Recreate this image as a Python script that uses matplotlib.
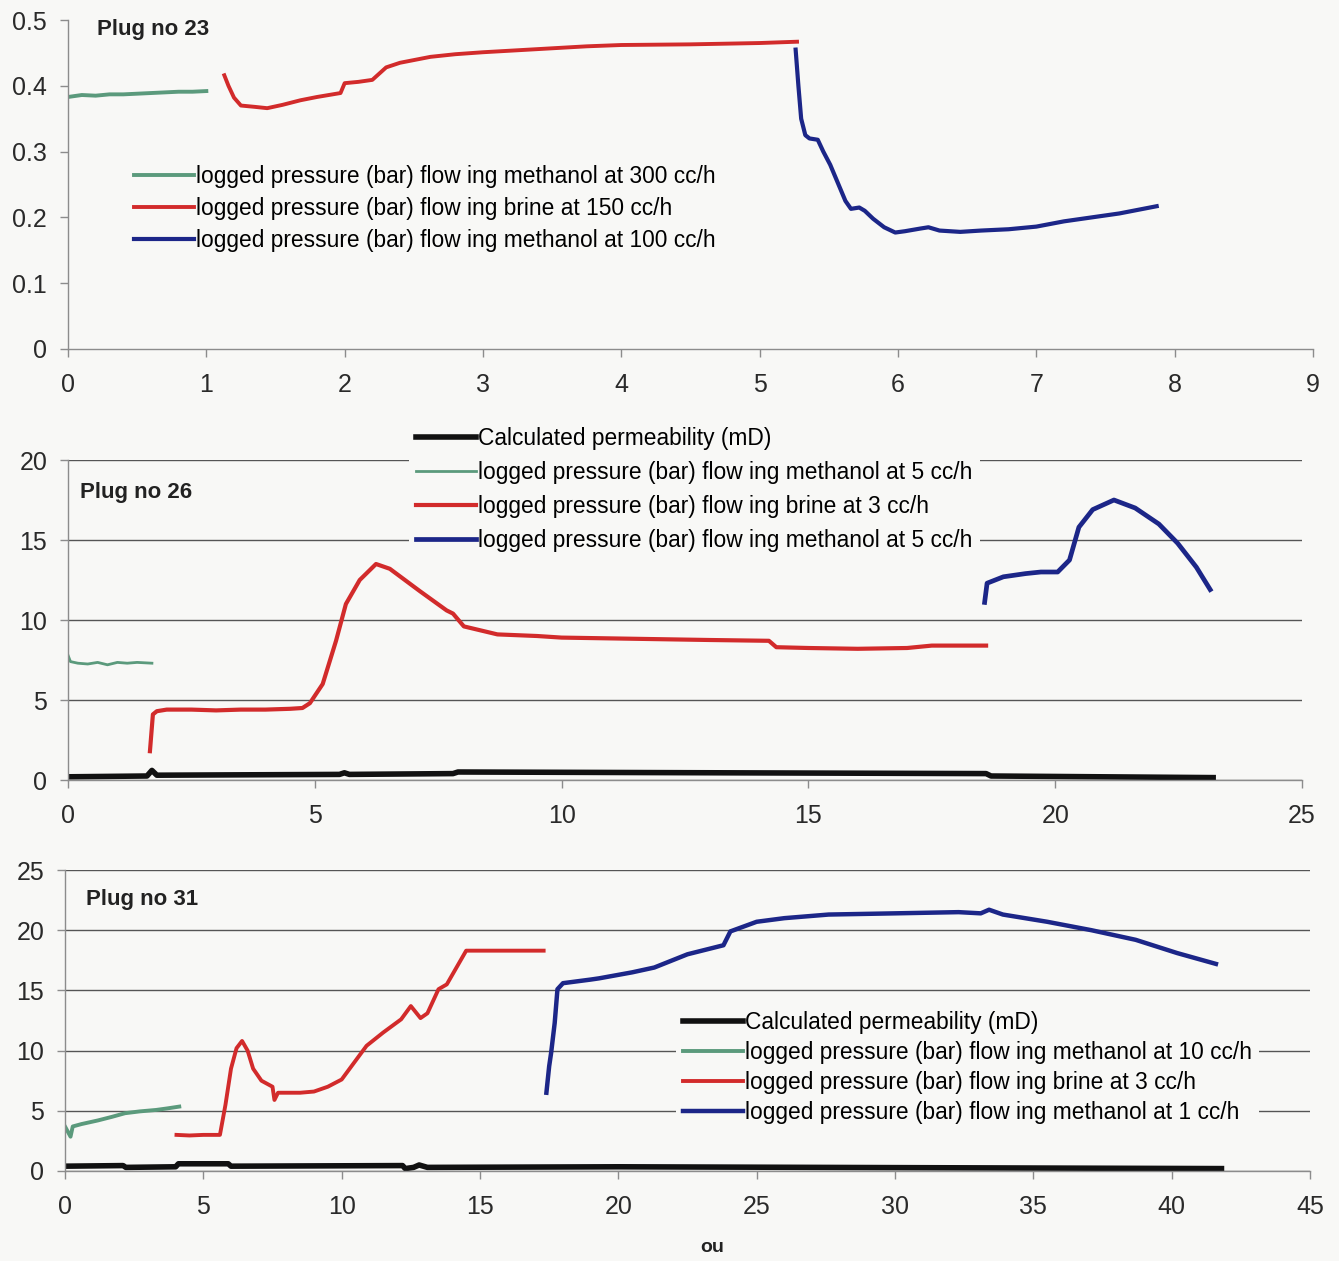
import matplotlib
matplotlib.use("Agg")
import matplotlib.pyplot as plt

plt.rcParams['font.family'] = ['Liberation Sans', 'DejaVu Sans']

W, H = 1339, 1261

# ---- Plug no 23 ----
p23_meth300_x = [0, 0.1, 0.2, 0.3, 0.4, 0.5, 0.6, 0.7, 0.8, 0.9, 1.0]
p23_meth300_y = [0.383, 0.386, 0.385, 0.387, 0.387, 0.388, 0.389, 0.390, 0.391, 0.391, 0.392]
p23_brine150_x = [1.13, 1.16, 1.2, 1.25, 1.35, 1.44, 1.55, 1.68, 1.8, 1.97, 2.0, 2.1, 2.2, 2.3,
                  2.4, 2.62, 2.8, 3.0, 3.25, 3.5, 3.75, 4.0, 4.5, 5.0, 5.27]
p23_brine150_y = [0.416, 0.40, 0.382, 0.370, 0.368, 0.366, 0.371, 0.378, 0.383, 0.389, 0.404,
                  0.406, 0.409, 0.428, 0.435, 0.444, 0.448, 0.451, 0.454, 0.457, 0.460, 0.462,
                  0.463, 0.465, 0.467]
p23_meth100_x = [5.26, 5.28, 5.30, 5.33, 5.36, 5.42, 5.46, 5.51, 5.56, 5.62, 5.66, 5.72, 5.76,
                 5.82, 5.90, 5.98, 6.05, 6.16, 6.22, 6.30, 6.45, 6.6, 6.8, 7.0, 7.2, 7.4, 7.6, 7.87]
p23_meth100_y = [0.455, 0.40, 0.35, 0.325, 0.32, 0.318, 0.30, 0.28, 0.255, 0.225, 0.213, 0.215,
                 0.210, 0.198, 0.185, 0.177, 0.179, 0.183, 0.185, 0.180, 0.178, 0.180, 0.182,
                 0.186, 0.194, 0.200, 0.206, 0.217]

# ---- Plug no 26 ----
p26_perm_x = [0, 1.6, 1.7, 1.8, 5.5, 5.6, 5.7, 7.8, 7.9, 18.6, 18.7, 23.2]
p26_perm_y = [0.2, 0.25, 0.6, 0.3, 0.35, 0.45, 0.35, 0.4, 0.5, 0.4, 0.25, 0.15]
p26_meth5a_x = [0, 0.05, 0.2, 0.4, 0.6, 0.8, 1.0, 1.2, 1.4, 1.7]
p26_meth5a_y = [7.8, 7.4, 7.3, 7.25, 7.35, 7.2, 7.35, 7.3, 7.35, 7.3]
p26_brine3_x = [1.66, 1.72, 1.8, 2.0, 2.5, 3.0, 3.5, 4.0, 4.5, 4.75, 4.9, 5.16, 5.43, 5.63, 5.91,
                6.24, 6.52, 7.13, 7.67, 7.8, 8.02, 8.7, 9.5, 10.0, 11.0, 12.0, 13.0, 14.2, 14.35,
                15.0, 16.0, 17.0, 17.5, 18.6]
p26_brine3_y = [1.8, 4.1, 4.3, 4.4, 4.4, 4.35, 4.4, 4.4, 4.45, 4.5, 4.8, 6.0, 8.7, 11.0, 12.5,
                13.5, 13.2, 11.8, 10.6, 10.4, 9.6, 9.1, 9.0, 8.9, 8.85, 8.8, 8.75, 8.7, 8.3,
                8.25, 8.2, 8.25, 8.4, 8.4]
p26_meth5b_x = [18.57, 18.62, 18.95, 19.4, 19.71, 20.05, 20.29, 20.48, 20.76, 21.19, 21.62,
                22.1, 22.48, 22.86, 23.14]
p26_meth5b_y = [11.1, 12.3, 12.7, 12.9, 13.0, 13.0, 13.75, 15.8, 16.9, 17.5, 17.0, 16.0, 14.8,
                13.3, 11.9]

# ---- Plug no 31 ----
p31_perm_x = [0, 2.1, 2.2, 4.0, 4.1, 5.9, 6.0, 12.2, 12.3, 12.6, 12.8, 13.1, 20.0, 41.8]
p31_perm_y = [0.4, 0.45, 0.3, 0.35, 0.6, 0.6, 0.4, 0.45, 0.2, 0.3, 0.5, 0.3, 0.35, 0.2]
p31_meth10_x = [0, 0.2, 0.28, 0.6, 1.19, 1.7, 2.17, 2.7, 3.29, 3.7, 4.13]
p31_meth10_y = [3.7, 2.85, 3.7, 3.9, 4.2, 4.5, 4.8, 4.95, 5.07, 5.2, 5.35]
p31_brine3_x = [4.03, 4.5, 5.0, 5.6, 5.8, 6.0, 6.2, 6.4, 6.6, 6.8, 7.1, 7.5, 7.57, 7.7, 8.0,
                8.5, 9.0, 9.5, 10.0, 10.9, 11.5, 12.15, 12.5, 12.85, 13.1, 13.5, 13.8, 14.5, 17.3]
p31_brine3_y = [3.0, 2.95, 3.0, 3.0, 5.5, 8.5, 10.2, 10.8, 10.0, 8.5, 7.5, 7.0, 5.9, 6.5, 6.5,
                6.5, 6.6, 7.0, 7.6, 10.4, 11.5, 12.6, 13.7, 12.7, 13.1, 15.1, 15.5, 18.3, 18.3]
p31_meth1_x = [17.4, 17.5, 17.57, 17.7, 17.8, 18.0, 19.0, 19.3, 20.5, 21.3, 22.5, 23.8, 24.05,
               25.0, 26.0, 27.6, 30.0, 32.3, 33.1, 33.4, 33.9, 35.5, 37.1, 38.7, 40.2, 41.6]
p31_meth1_y = [6.5, 8.7, 9.8, 12.3, 15.1, 15.6, 15.9, 16.0, 16.5, 16.9, 18.0, 18.75, 19.9, 20.7,
               21.0, 21.3, 21.4, 21.5, 21.4, 21.7, 21.3, 20.7, 20.0, 19.2, 18.1, 17.2]

c_green = '#5b9a7c'
c_red = '#d22b2b'
c_blue = '#1c2688'
c_perm = '#111111'
c_axis = '#8c8c8c'
bg = '#f8f8f6'


def fbox(x0, x1, y_top, y_bot):
    return [x0 / W, 1 - y_bot / H, (x1 - x0) / W, (y_bot - y_top) / H]


def style_axes(ax, grid):
    ax.set_facecolor('none')
    for s in ['top', 'right']:
        ax.spines[s].set_visible(False)
    for s in ['left', 'bottom']:
        ax.spines[s].set_color(c_axis)
        ax.spines[s].set_linewidth(1.0)
    ax.tick_params(axis='both', colors=c_axis, labelcolor='#2a2a2a', labelsize=18,
                   length=6, width=1.0, direction='out')
    ax.tick_params(axis='x', pad=11)
    ax.tick_params(axis='y', pad=9)
    if grid:
        ax.yaxis.grid(True, color='#555555', linewidth=1.0)
        ax.set_axisbelow(True)


def add_legend(ax, anchor_px, spacing):
    leg = ax.legend(loc='upper left', bbox_to_anchor=(anchor_px[0] / W, 1 - anchor_px[1] / H),
                    bbox_transform=ax.figure.transFigure, frameon=True, fancybox=False,
                    facecolor=bg, edgecolor='none', framealpha=1.0, fontsize=16.4,
                    handlelength=2.65, handletextpad=0.1, labelspacing=spacing,
                    borderpad=0.3, borderaxespad=0)
    leg.set_zorder(5)
    return leg


fig = plt.figure(figsize=(W / 100, H / 100), dpi=100, facecolor=bg)

# panel 1
ax1 = fig.add_axes(fbox(68, 1313, 20, 349))
style_axes(ax1, grid=False)
ax1.plot(p23_meth300_x, p23_meth300_y, color=c_green, lw=2.8,
         label='logged pressure (bar) flow ing methanol at 300 cc/h')
ax1.plot(p23_brine150_x, p23_brine150_y, color=c_red, lw=2.8,
         label='logged pressure (bar) flow ing brine at 150 cc/h')
ax1.plot(p23_meth100_x, p23_meth100_y, color=c_blue, lw=3.0,
         label='logged pressure (bar) flow ing methanol at 100 cc/h')
ax1.set_xlim(0, 9)
ax1.set_ylim(0, 0.5)
ax1.set_xticks(range(0, 10))
ax1.set_yticks([0, 0.1, 0.2, 0.3, 0.4, 0.5])
ax1.set_yticklabels(['0', '0.1', '0.2', '0.3', '0.4', '0.5'])
ax1.text(97 / W, 1 - 30 / H, 'Plug no 23', transform=fig.transFigure, fontsize=16,
         fontweight='bold', va='center', ha='left', color='#222222')
add_legend(ax1, (127, 158), 0.39)

# panel 2
ax2 = fig.add_axes(fbox(68, 1302, 460, 780))
style_axes(ax2, grid=True)
ax2.plot(p26_perm_x, p26_perm_y, color=c_perm, lw=4.0, label='Calculated permeability (mD)')
ax2.plot(p26_meth5a_x, p26_meth5a_y, color=c_green, lw=2.0,
         label='logged pressure (bar) flow ing methanol at 5 cc/h')
ax2.plot(p26_brine3_x, p26_brine3_y, color=c_red, lw=3.0,
         label='logged pressure (bar) flow ing brine at 3 cc/h')
ax2.plot(p26_meth5b_x, p26_meth5b_y, color=c_blue, lw=3.4,
         label='logged pressure (bar) flow ing methanol at 5 cc/h')
ax2.set_xlim(0, 25)
ax2.set_ylim(0, 20)
ax2.set_xticks(range(0, 26, 5))
ax2.set_yticks(range(0, 21, 5))
ax2.text(80 / W, 1 - 493 / H, 'Plug no 26', transform=fig.transFigure, fontsize=16,
         fontweight='bold', va='center', ha='left', color='#222222')
add_legend(ax2, (409, 420), 0.49)

# panel 3
ax3 = fig.add_axes(fbox(65, 1310, 870, 1171))
style_axes(ax3, grid=True)
ax3.plot(p31_perm_x, p31_perm_y, color=c_perm, lw=4.0, label='Calculated permeability (mD)')
ax3.plot(p31_meth10_x, p31_meth10_y, color=c_green, lw=2.8,
         label='logged pressure (bar) flow ing methanol at 10 cc/h')
ax3.plot(p31_brine3_x, p31_brine3_y, color=c_red, lw=2.8,
         label='logged pressure (bar) flow ing brine at 3 cc/h')
ax3.plot(p31_meth1_x, p31_meth1_y, color=c_blue, lw=3.2,
         label='logged pressure (bar) flow ing methanol at 1 cc/h')
ax3.set_xlim(0, 45)
ax3.set_ylim(0, 25)
ax3.set_xticks(range(0, 46, 5))
ax3.set_yticks(range(0, 26, 5))
ax3.text(86 / W, 1 - 899 / H, 'Plug no 31', transform=fig.transFigure, fontsize=16,
         fontweight='bold', va='center', ha='left', color='#222222')
add_legend(ax3, (676, 1004), 0.31)
fig.text(712 / W, 1 - 1248 / H, 'ou', fontsize=14, fontweight='bold', ha='center',
         va='center', color='#222222')

fig.savefig('out.png', dpi=100, facecolor=bg)
